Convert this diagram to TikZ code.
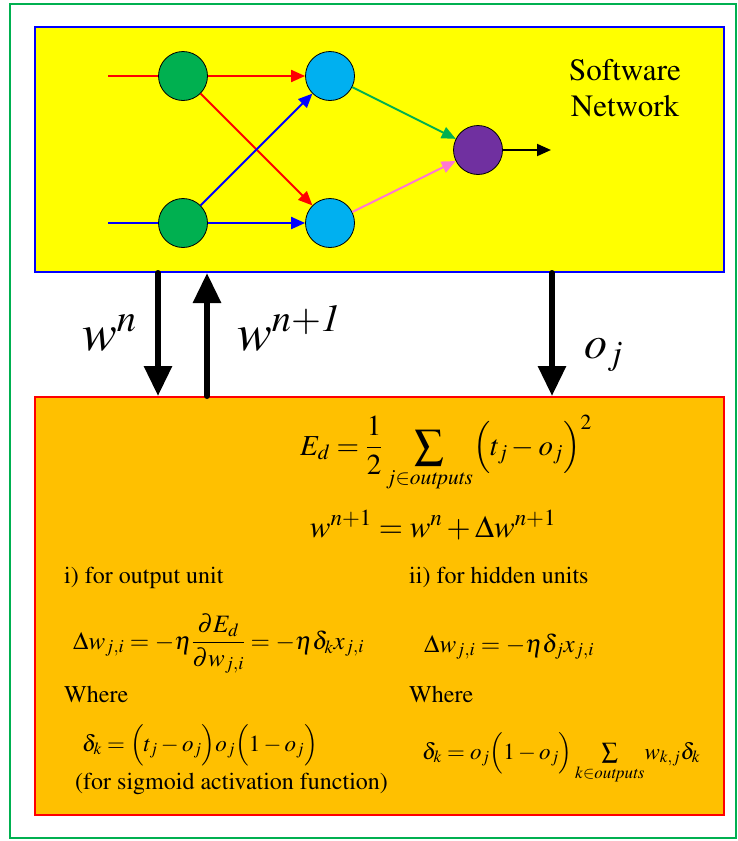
\documentclass[tikz,border=0pt]{standalone}
\usepackage[T1]{fontenc}
\usepackage{amsmath}
\usepackage{mathptmx}
\usetikzlibrary{arrows.meta,positioning}
\definecolor{netyel}  {RGB}{255,255,  0}
\definecolor{calcorg} {RGB}{255,192,  0}
\definecolor{inpgreen}{RGB}{  0,176, 80}
\definecolor{hidblue} {RGB}{  0,176,240}
\definecolor{outpurp} {RGB}{112, 48,160}
\definecolor{wpink}   {RGB}{255,120,210}
\tikzset{
  neu/.style  ={circle,draw=black,line width=0.8pt,
                 minimum size=49pt,inner sep=0pt},
  neug/.style ={neu,fill=inpgreen},
  neub/.style ={neu,fill=hidblue},
  neup/.style ={neu,fill=outpurp},
  wt/.style   ={-{Triangle[length=14pt,width=12pt]},line width=2pt},
  bus/.style  ={-{Triangle[length=30pt,width=27pt]},line width=6pt,line cap=round},
  txt/.style  ={font=\fontsize{24}{28}\selectfont,inner sep=0pt},
  eqn/.style  ={font=\fontsize{25}{28}\selectfont,inner sep=0pt},
  eqns/.style ={font=\fontsize{23}{26}\selectfont,inner sep=0pt},
  eqnl/.style ={font=\fontsize{29}{32}\selectfont,inner sep=0pt},
  bigl/.style ={font=\fontsize{52}{56}\selectfont,inner sep=0pt},
}

\begin{document}
\begin{tikzpicture}[x=1pt,y=-1pt]
  \useasboundingbox (0,0) rectangle (737,841);
  \draw[inpgreen,line width=1.5pt] (10,4) rectangle (736,838);
  % the two boxes
  \node[draw=blue,line width=2pt,fill=netyel,minimum width=689pt,minimum height=245pt]
        (net) at (379.5,149.5) {};
  \node[draw=red,line width=2pt,fill=calcorg,minimum width=689pt,minimum height=418pt]
        (calc) at (379.5,606) {};
  % network
  \node[neug] (i1) at (183,76)  {};
  \node[neug] (i2) at (183,223) {};
  \node[neub] (h1) at (330,76)  {};
  \node[neub] (h2) at (330,223) {};
  \node[neup] (o1) at (478,150) {};
  \coordinate (x1) at (108,76);
  \coordinate (x2) at (108,223);
  \coordinate (y1) at (551,150);
  \draw[red,line width=2pt]  (x1) -- (i1);
  \draw[blue,line width=2pt] (x2) -- (i2);
  \draw[wt,red]      (i1) -- (h1);
  \draw[wt,red]      (i1) -- (h2);
  \draw[wt,blue]     (i2) -- (h1);
  \draw[wt,blue]     (i2) -- (h2);
  \draw[wt,inpgreen] (h1) -- (o1);
  \draw[wt,wpink]    (h2) -- (o1);
  \draw[wt,black]    (o1) -- (y1);
  \node[font=\fontsize{31}{36}\selectfont,align=center] (sw) at (625,88) {Software\\Network};
  % links between the boxes
  \coordinate (wa) at (158,0);
  \coordinate (wb) at (207,0);
  \coordinate (wc) at (552,0);
  \draw[bus] (net.south -| wa) -- (calc.north -| wa);
  \draw[bus] (calc.north -| wb) -- (net.south -| wb);
  \draw[bus] (net.south -| wc) -- (calc.north -| wc);
  \node[bigl,anchor=base west] (lwn)  at (82,350)  {$w^{n}$};
  \node[bigl,anchor=base west] (lwn1) at (237,350) {$w^{n+\mathit{1}}$};
  \node[bigl,anchor=base west,font=\fontsize{46}{50}\selectfont] (loj) at (584,358) {$o_{j}$};
  % formulas
  \node[eqnl,anchor=base] (ed) at (446,455)
        {$\displaystyle E_d=\frac{1}{2}\sum_{j\in \mathit{outputs}}\Bigl(t_j-o_j\Bigr)^2$};
  \node[eqnl,anchor=base,font=\fontsize{31}{34}\selectfont] (upd) at (433,537) {$w^{n+1}=w^n+\Delta w^{n+1}$};
  \node[txt,anchor=base west] (ta) at (64,583)  {i) for output unit};
  \node[txt,anchor=base west] (tb) at (409,583) {ii) for hidden units};
  \node[eqn,anchor=base west] (dwo) at (73,649)
        {$\displaystyle \Delta w_{j,i}=-\eta\frac{\partial E_d}{\partial w_{j,i}}=-\eta\delta_k x_{j,i}$};
  \node[eqn,anchor=base west] (dwh) at (424,652) {$\Delta w_{j,i}=-\eta\delta_j x_{j,i}$};
  \node[txt,anchor=base west] (wha) at (64,702)  {Where};
  \node[txt,anchor=base west] (whb) at (409,702) {Where};
  \node[eqns,anchor=base west] (dko) at (82,751)
        {$\delta_k=\Bigl(t_j-o_j\Bigr)o_j\Bigl(1-o_j\Bigr)$};
  \node[txt,anchor=base west] (sig) at (75,789) {(for sigmoid activation function)};
  \node[eqns,anchor=base west] (dkh) at (422,759)
        {$\delta_k=o_j\Bigl(1-o_j\Bigr)\sum\limits_{k\in \mathit{outputs}}\! w_{k,j}\delta_k$};
\end{tikzpicture}
\end{document}
